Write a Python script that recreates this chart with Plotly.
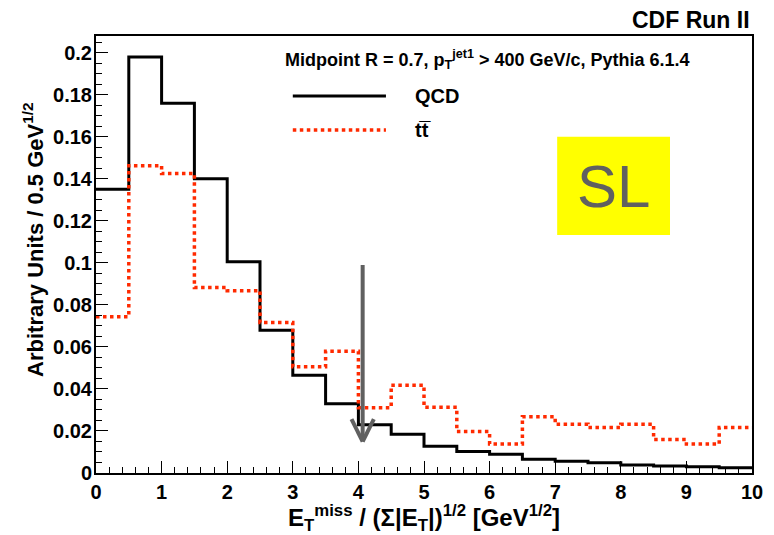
import plotly.graph_objects as go

bin_edges = [i * 0.5 for i in range(21)]
qcd = [0.135, 0.198, 0.176, 0.140, 0.1005, 0.068, 0.0465, 0.033, 0.023, 0.0185,
       0.0127, 0.0102, 0.0089, 0.0065, 0.0056, 0.0049, 0.0038, 0.0033, 0.0030, 0.0025]
ttbar = [0.0744, 0.1463, 0.1425, 0.0883, 0.0868, 0.0716, 0.0506, 0.058, 0.0311, 0.0418,
         0.0313, 0.0197, 0.0138, 0.0268, 0.0232, 0.0217, 0.0232, 0.0160, 0.0138, 0.0217]
x_ticks = list(range(0, 11))
y_ticks = [round(0.02 * i, 2) for i in range(11)]
arrow_x = 4.065
arrow_top = 0.099
arrow_tip = 0.0149

FONT = "Liberation Sans"

fig = go.Figure()
fig.add_trace(go.Scatter(x=bin_edges, y=qcd + [qcd[-1]], mode="lines", line_shape="hv",
                         line=dict(color="black", width=3), showlegend=False))
fig.add_trace(go.Scatter(x=bin_edges, y=ttbar + [ttbar[-1]], mode="lines", line_shape="hv",
                         line=dict(color="#ff2a00", width=3.5, dash="dot"), showlegend=False))

shapes = [
    dict(type="line", xref="x", yref="y", x0=arrow_x, x1=arrow_x, y0=arrow_top, y1=arrow_tip + 0.001,
         line=dict(color="#606060", width=4)),
    dict(type="line", xref="x", yref="y", x0=arrow_x - 0.17, x1=arrow_x, y0=arrow_tip + 0.0107, y1=arrow_tip,
         line=dict(color="#606060", width=4)),
    dict(type="line", xref="x", yref="y", x0=arrow_x + 0.17, x1=arrow_x, y0=arrow_tip + 0.0107, y1=arrow_tip,
         line=dict(color="#606060", width=4)),
    dict(type="rect", xref="x", yref="y", x0=7.03, x1=8.75, y0=0.1133, y1=0.160,
         fillcolor="#ffff00", line=dict(width=0), layer="below"),
    dict(type="line", xref="x", yref="y", x0=3.0, x1=4.42, y0=0.1795, y1=0.1795,
         line=dict(color="black", width=3)),
    dict(type="line", xref="x", yref="y", x0=3.0, x1=4.42, y0=0.1633, y1=0.1633,
         line=dict(color="#ff2a00", width=3.5, dash="dot")),
]

annotations = [
    dict(text="<b>CDF Run II</b>", xref="paper", yref="paper", x=1.0, y=1.0, xanchor="right",
         yanchor="bottom", yshift=1, showarrow=False, font=dict(family=FONT, size=23, color="black")),
    dict(text="<b>Midpoint R = 0.7, p<sub>T</sub><sup>jet1</sup> > 400 GeV/c, Pythia 6.1.4</b>",
         xref="x", yref="y", x=2.85, y=0.197, xanchor="left", yanchor="middle", showarrow=False,
         font=dict(family=FONT, size=18, color="black")),
    dict(text="<b>QCD</b>", xref="x", yref="y", x=4.83, y=0.1795, xanchor="left", yanchor="middle",
         showarrow=False, font=dict(family=FONT, size=20, color="black")),
    dict(text="<b>tt\u0305</b>", xref="x", yref="y", x=4.83, y=0.1633, xanchor="left", yanchor="middle",
         showarrow=False, font=dict(family=FONT, size=20, color="black")),
    dict(text="SL", xref="x", yref="y", x=7.89, y=0.1366, xanchor="center", yanchor="middle",
         showarrow=False, font=dict(family=FONT, size=60, color="#606060")),
    dict(text="<b>Arbitrary Units / 0.5 GeV<sup>1/2</sup></b>", xref="paper", yref="paper",
         x=-0.095, y=0.535, xanchor="center", yanchor="middle", textangle=-90, showarrow=False,
         font=dict(family=FONT, size=22, color="black")),
    dict(text="<b>E<sub>T</sub><sup>miss</sup> / (Σ|E<sub>T</sub>|)<sup>1/2</sup> [GeV<sup>1/2</sup>]</b>",
         xref="paper", yref="paper", x=0.5, y=-0.103, xanchor="center", yanchor="middle", showarrow=False,
         font=dict(family=FONT, size=24, color="black")),
]

fig.update_layout(
    width=774, height=535,
    margin=dict(l=96, r=22, t=36, b=62),
    paper_bgcolor="white", plot_bgcolor="white",
    shapes=shapes, annotations=annotations,
    font=dict(family=FONT, color="black"),
)
fig.update_xaxes(range=[0, 10], tickvals=x_ticks, ticks="inside", ticklen=12, tickwidth=1,
                 tickcolor="black", showline=True, linecolor="black", linewidth=2, mirror=True,
                 showgrid=False, zeroline=False,
                 tickfont=dict(family=FONT, size=20, color="black", weight="bold"),
                 minor=dict(dtick=0.2, ticks="inside", ticklen=6, tickcolor="black", showgrid=False))
fig.update_yaxes(range=[0, 0.208], tickvals=y_ticks, ticks="inside", ticklen=12, tickwidth=1,
                 tickcolor="black", showline=True, linecolor="black", linewidth=2, mirror=True,
                 showgrid=False, zeroline=False, ticklabelstandoff=-2,
                 tickfont=dict(family=FONT, size=20, color="black", weight="bold"),
                 minor=dict(dtick=0.005, ticks="inside", ticklen=6, tickcolor="black", showgrid=False))

fig.write_html("out.html")
